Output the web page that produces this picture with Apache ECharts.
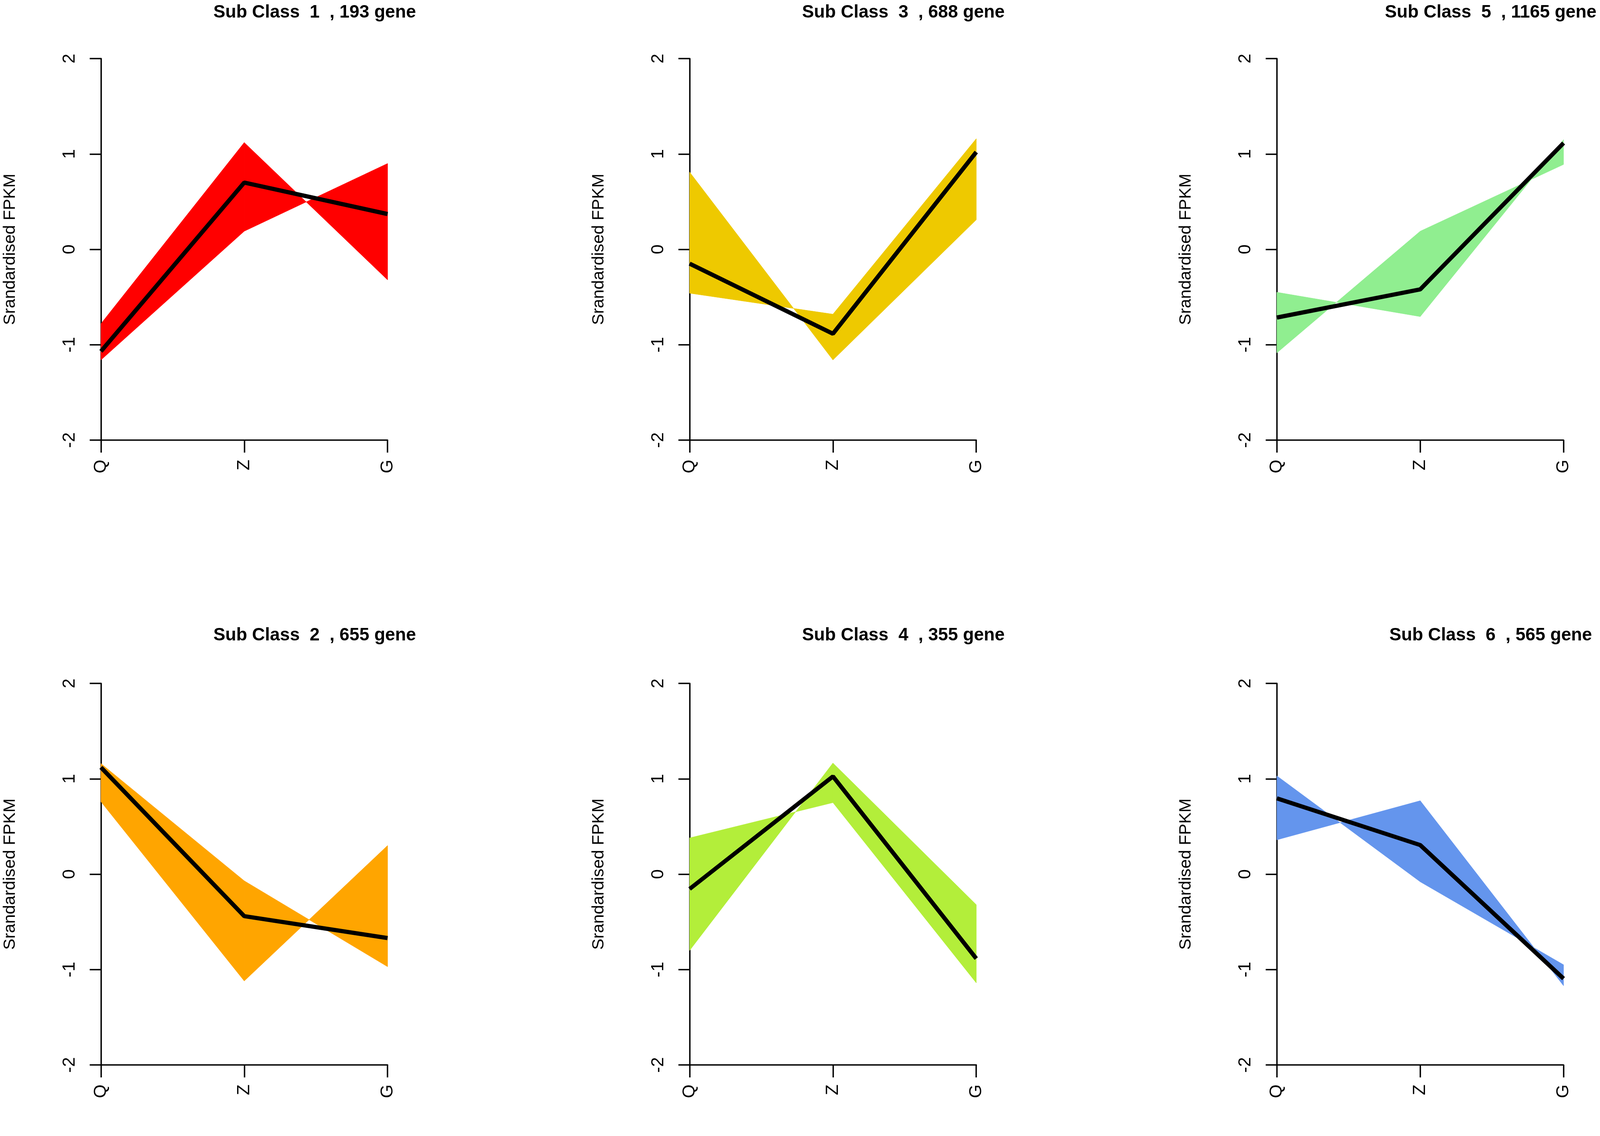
<!DOCTYPE html>
<html>
<head>
<meta charset="utf-8">
<title>Sub Class profiles</title>
<script src="https://cdn.jsdelivr.net/npm/echarts@6/dist/echarts.min.js"></script>
<style>
  html, body { margin: 0; padding: 0; background: #fff; overflow: hidden; }
  #chart { width: 100vw; height: 100vh; }
</style>
</head>
<body>
<div id="chart"></div>
<script>
// stages on the x axis
var categories = ['Q', 'Z', 'G'];
var yTicks = [-2, -1, 0, 1, 2];

// panel order: top row 1,3,5 then bottom row 2,4,6
var classIds = [1, 3, 5, 2, 4, 6];
var geneCounts = [193, 688, 1165, 655, 355, 565];
var bandColors = ['#FF0000', '#EEC900', '#90EE90', '#FFA500', '#B3EE3A', '#6495ED'];

// mean profile of each sub class (black line)
var mean1 = [-1.07, 0.70, 0.37];
var mean3 = [-0.15, -0.885, 1.02];
var mean5 = [-0.715, -0.42, 1.115];
var mean2 = [1.12, -0.44, -0.67];
var mean4 = [-0.155, 1.025, -0.885];
var mean6 = [0.795, 0.305, -1.095];

// two extreme gene profiles per class, the filled band lies between them
var edgeA1 = [-0.78, 1.12, -0.32], edgeB1 = [-1.16, 0.19, 0.90];
var edgeA3 = [0.81, -1.16, 0.31],  edgeB3 = [-0.46, -0.68, 1.16];
var edgeA5 = [-1.085, 0.19, 0.89], edgeB5 = [-0.45, -0.705, 1.15];
var edgeA2 = [1.16, -0.07, -0.97], edgeB2 = [0.76, -1.12, 0.30];
var edgeA4 = [0.38, 0.75, -1.14],  edgeB4 = [-0.80, 1.165, -0.32];
var edgeA6 = [1.03, -0.08, -0.95], edgeB6 = [0.36, 0.77, -1.17];

var means = [mean1, mean3, mean5, mean2, mean4, mean6];
var edgesA = [edgeA1, edgeA3, edgeA5, edgeA2, edgeA4, edgeA6];
var edgesB = [edgeB1, edgeB3, edgeB5, edgeB2, edgeB4, edgeB6];

var font = '"Liberation Sans", Arial, Helvetica, sans-serif';

var chart = echarts.init(document.getElementById('chart'), null, { renderer: 'canvas' });
// layout was measured on a 4566 x 2909 picture, scale it to the real canvas
var sx = chart.getWidth() / 4566, sy = chart.getHeight() / 2909;
var s = Math.min(sx, sy);

var colLeft = [288, 1968, 3644];
var rowTop = [150, 1750];
var plotW = 818, plotH = 977;

var grids = [], xAxes = [], yAxes = [], series = [], titles = [];

for (var k = 0; k < 6; k++) {
  var col = k % 3, row = Math.floor(k / 3);
  grids.push({ left: colLeft[col] * sx, top: rowTop[row] * sy, width: plotW * sx, height: plotH * sy });

  xAxes.push({
    gridIndex: k, type: 'category', data: categories, boundaryGap: false,
    axisLine: { show: true, onZero: false, lineStyle: { color: '#000', width: 4 * s } },
    axisTick: { show: true, length: 32 * sy, lineStyle: { color: '#000', width: 4 * s } },
    axisLabel: { rotate: 90, margin: 50 * sy, fontSize: 50 * s, color: '#000', fontFamily: font },
    splitLine: { show: false }
  });

  yAxes.push({
    gridIndex: k, type: 'value', min: yTicks[0], max: yTicks[yTicks.length - 1], interval: 1,
    name: 'Srandardised FPKM', nameLocation: 'middle', nameRotate: 90, nameGap: 235 * sx,
    nameTextStyle: { fontSize: 48 * s, color: '#000', fontFamily: font },
    axisLine: { show: true, onZero: false, lineStyle: { color: '#000', width: 4 * s } },
    axisTick: { show: true, length: 32 * sx, lineStyle: { color: '#000', width: 4 * s } },
    axisLabel: { rotate: 90, margin: 64 * sx, fontSize: 50 * s, color: '#000', fontFamily: font,
      formatter: function (v) { return String(v); } },
    splitLine: { show: false }
  });

  // one polygon per segment between neighbouring stages
  var segs = [];
  for (var i = 0; i < categories.length - 1; i++) {
    segs.push([i, edgesA[k][i], edgesA[k][i + 1], edgesB[k][i], edgesB[k][i + 1]]);
  }
  series.push({
    type: 'custom', xAxisIndex: k, yAxisIndex: k, silent: true, z: 2,
    data: segs,
    renderItem: (function (color) {
      return function (params, api) {
        var x0 = api.value(0);
        var p1 = api.coord([x0, api.value(1)]);
        var p2 = api.coord([x0 + 1, api.value(2)]);
        var p3 = api.coord([x0 + 1, api.value(4)]);
        var p4 = api.coord([x0, api.value(3)]);
        return {
          type: 'polygon',
          shape: { points: [p1, p2, p3, p4] },
          style: { fill: color, stroke: color, lineWidth: 1 }
        };
      };
    })(bandColors[k])
  });

  series.push({
    type: 'line', xAxisIndex: k, yAxisIndex: k, data: means[k],
    symbol: 'none', z: 5, silent: true,
    lineStyle: { color: '#000', width: 12 * s }
  });

  titles.push({
    text: 'Sub Class  ' + classIds[k] + '  , ' + geneCounts[k] + ' gene',
    left: (colLeft[col] + 610) * sx, top: (row === 0 ? 9 : 1604) * sy,
    textAlign: 'center', padding: 0,
    textStyle: { fontSize: 51 * s, fontWeight: 'bold', color: '#000', fontFamily: font }
  });
}

chart.setOption({
  backgroundColor: '#fff',
  animation: false,
  title: titles,
  grid: grids,
  xAxis: xAxes,
  yAxis: yAxes,
  series: series
});
</script>
</body>
</html>
